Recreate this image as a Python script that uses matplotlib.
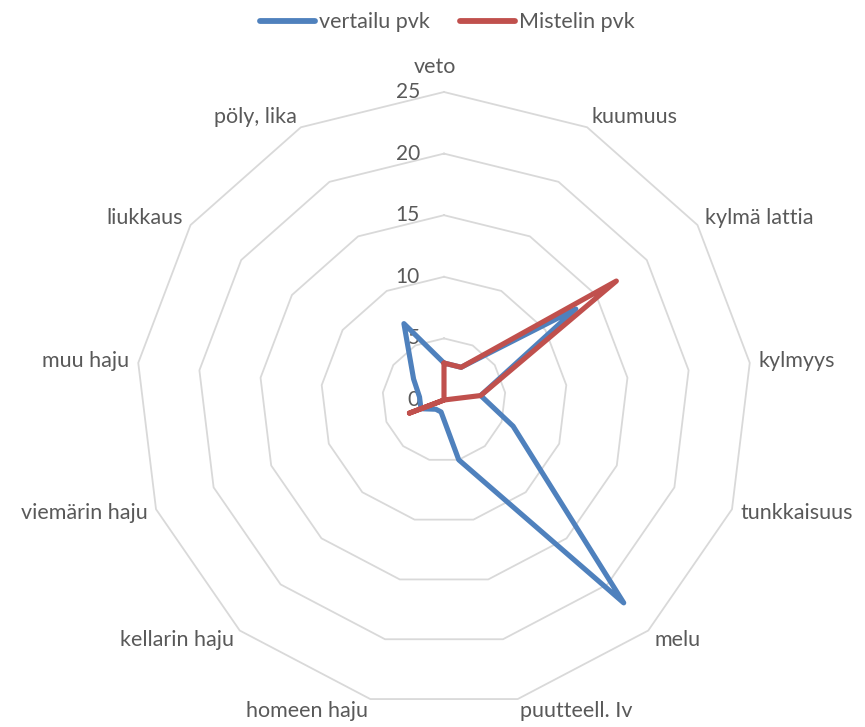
import numpy as np
import matplotlib
matplotlib.use("Agg")
import matplotlib.pyplot as plt
from matplotlib.lines import Line2D

categories = ["veto", "kuumuus", "kylmä lattia", "kylmyys", "tunkkaisuus", "melu",
              "puutteell. Iv", "homeen haju", "kellarin haju", "viemärin haju",
              "muu haju", "liukkaus", "pöly, lika"]
vertailu = [3, 3, 13, 3, 6, 22, 5, 1, 1, 2, 2, 3, 7]
mistelin = [3, 3, 17, 3, 0, 0, 0, 0, 0, 3, 0, 0, 0]
rings = [0, 5, 10, 15, 20, 25]

plt.rcParams["font.family"] = ["Lato", "DejaVu Sans"]
text_col = "#595959"
blue = "#4F81BD"
red = "#C0504D"
fs = 15.5

n = len(categories)
theta = np.arange(n) * 2 * np.pi / n
theta_c = np.append(theta, theta[0])

fig = plt.figure(figsize=(8.65, 7.27), dpi=100)
ax = fig.add_axes([136 / 865, 19 / 727, 616 / 865, 616 / 727], projection="polar")
ax.set_theta_zero_location("N")
ax.set_theta_direction(-1)
ax.set_ylim(0, 25)
ax.grid(False)
ax.set_xticks([])
ax.set_yticks([])
ax.spines["polar"].set_visible(False)
ax.patch.set_alpha(0)

for r in rings[1:]:
    ax.plot(theta_c, [r] * (n + 1), color="#D9D9D9", lw=1.3, zorder=1, clip_on=False)

for r in rings:
    ax.annotate(str(r), (0, r), xytext=(-24, 0), textcoords="offset pixels",
                ha="right", va="center", fontsize=15, color=text_col)

ax.plot(theta_c, vertailu + vertailu[:1], color=blue, lw=3.7, zorder=3,
        solid_joinstyle="round", solid_capstyle="round", clip_on=False)
ax.plot(theta_c, mistelin + mistelin[:1], color=red, lw=3.7, zorder=4,
        solid_joinstyle="round", solid_capstyle="round", clip_on=False)

for t, lab in zip(theta, categories):
    s, c = np.sin(t), np.cos(t)
    if abs(s) < 0.01:
        ax.annotate(lab, (t, 25), xytext=(-9, 15), textcoords="offset pixels",
                    ha="center", va="bottom", fontsize=fs, color=text_col)
    else:
        ax.annotate(lab, (t, 25), xytext=(9 * s, 12 * c), textcoords="offset pixels",
                    ha="left" if s > 0 else "right", va="center",
                    fontsize=fs, color=text_col)

handles = [Line2D([], [], color=blue, lw=4.2, solid_capstyle="round"),
           Line2D([], [], color=red, lw=4.2, solid_capstyle="round")]
fig.legend(handles, ["vertailu pvk", "Mistelin pvk"], loc="upper center",
           bbox_to_anchor=(0.517, 1.01), ncol=2, frameon=False, fontsize=fs,
           handlelength=2.55, handletextpad=0.2, columnspacing=1.4,
           labelcolor=text_col)

fig.savefig("out.png", dpi=100)
